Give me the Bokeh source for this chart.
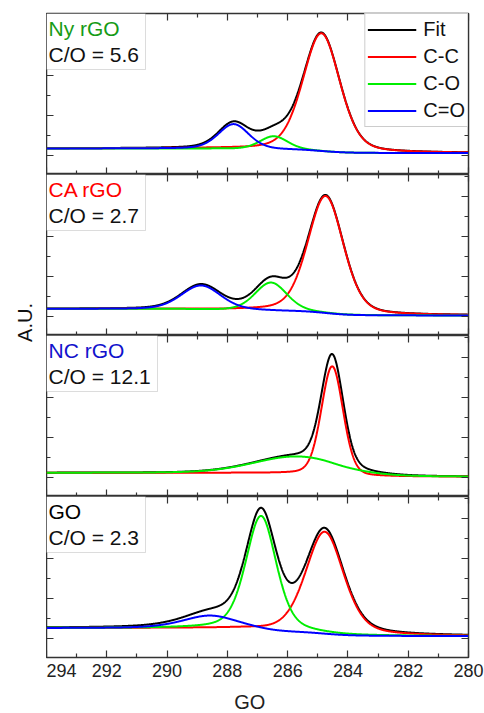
import numpy as np
from bokeh.plotting import figure
from bokeh.models import (Range1d, LinearAxis, FixedTicker, Label, BoxAnnotation,
                          Legend, LegendItem)
from bokeh.layouts import row, column
from bokeh.embed import file_html
from bokeh.resources import INLINE

# ---------------- data ----------------
x_ticks = [294, 292, 290, 288, 286, 284, 282, 280]
x_minor_ticks = [293, 291, 289, 287, 285, 283, 281]
y_ticks = [0, 1, 2, 3]
y_minor_ticks = [0.5, 1.5, 2.5, 3.5]
x_title = "GO"
y_title = "A.U."
series_names = ["Fit", "C-C", "C-O", "C=O"]

sample_names = ["Ny rGO", "CA rGO", "NC rGO", "GO"]
co_ratios = ["C/O = 5.6", "C/O = 2.7", "C/O = 12.1", "C/O = 2.3"]

# fitted peak parameters, order C-C, C-O, C=O (None = component absent)
ny_centre = [284.88, 286.46, 287.79]
ny_height = [2.95, 0.33, 0.62]
ny_fwhm = [1.45, 1.10, 1.20]
ny_lorentz = [0.3, 0.3, 0.3]
ny_background = [0.06, 0.175]      # low-BE end, high-BE end

ca_centre = [284.74, 286.55, 288.87]
ca_height = [2.93, 0.70, 0.60]
ca_fwhm = [1.40, 1.25, 1.55]
ca_lorentz = [0.3, 0.25, 0.25]
ca_background = [0.025, 0.19]

nc_centre = [284.52, 285.68, None]
nc_height = [2.72, 0.43, None]
nc_fwhm = [0.85, 3.40, None]
nc_lorentz = [0.2, 0.2, None]
nc_background = [0.02, 0.117]

go_centre = [284.77, 286.88, 288.56]
go_height = [2.56, 2.87, 0.33]
go_fwhm = [1.50, 1.20, 2.20]
go_lorentz = [0.4, 0.4, 0.5]
go_background = [0.058, 0.258]

panels_data = [
    (ny_centre, ny_height, ny_fwhm, ny_lorentz, ny_background),
    (ca_centre, ca_height, ca_fwhm, ca_lorentz, ca_background),
    (nc_centre, nc_height, nc_fwhm, nc_lorentz, nc_background),
    (go_centre, go_height, go_fwhm, go_lorentz, go_background),
]

# ---------------- styles / layout ----------------
FONT = "Liberation Sans"
line_colors = ["#000000", "#ff0000", "#00ee00", "#0000ff"]
name_colors = ["#169b16", "#ff0000", "#1111cc", "#000000"]
box_width_px = [99, 99, 111, 99]
FRAME_W = 422
FRAME_H = 161
PX_PER_Y = 40.0
X_LO, X_HI = 280, 294
Y_LO, Y_HI = -0.475, 3.55
TOTAL_H = 713
TOP_PAD = 13
TICKLABEL_PAD = 30
STRIP_H = TOTAL_H - TOP_PAD - 4 * FRAME_H - TICKLABEL_PAD


def pseudo_voigt(x, c, h, w, eta):
    t = (x - c) / w
    return h * ((1 - eta) * np.exp(-4 * np.log(2) * t * t) + eta / (1 + 4 * t * t))


def build_curves(centre, height, fwhm, lorentz, background):
    x = np.linspace(X_LO, X_HI, 1401)
    peaks = []
    for c, h, w, e in zip(centre, height, fwhm, lorentz):
        peaks.append(None if c is None else pseudo_voigt(x, c, h, w, e))
    total = sum(p for p in peaks if p is not None)
    cum = np.cumsum(total)
    frac = cum / cum[-1]
    bg = background[0] + (background[1] - background[0]) * frac   # Shirley-type step
    curves = [bg + total] + [None if p is None else bg + p for p in peaks]
    return x, curves


def style_axis(ax, labels=False):
    ax.axis_line_color = None
    ax.major_tick_in = 7
    ax.major_tick_out = 0
    ax.minor_tick_in = 4
    ax.minor_tick_out = 0
    ax.major_tick_line_color = "#333333"
    ax.minor_tick_line_color = "#333333"
    ax.major_tick_line_width = 1.2
    ax.minor_tick_line_width = 1.2
    if labels:
        ax.major_label_text_font = FONT
        ax.major_label_text_font_size = "18px"
        ax.major_label_text_color = "#222222"
        ax.major_label_standoff = 6
    else:
        ax.major_label_text_font_size = "0px"
        ax.major_label_text_color = None
        ax.major_label_text_alpha = 0
        ax.major_label_standoff = 0


x_range = Range1d(X_HI, X_LO)
panels = []
for i, pdata in enumerate(panels_data):
    top = TOP_PAD if i == 0 else 0
    bottom = TICKLABEL_PAD if i == 3 else 0
    p = figure(width=FRAME_W + 16, height=FRAME_H + top + bottom,
               x_range=x_range, y_range=Range1d(Y_LO, Y_HI),
               output_backend="svg", toolbar_location=None,
               x_axis_location=None, y_axis_location=None,
               min_border_left=0, min_border_right=16,
               min_border_top=top, min_border_bottom=bottom)
    p.outline_line_color = "#333333"
    p.outline_line_width = 1.5
    p.grid.visible = False

    for loc in ["above", "below"]:
        ax = LinearAxis(ticker=FixedTicker(ticks=x_ticks, minor_ticks=x_minor_ticks))
        show = (i == 3 and loc == "below")
        style_axis(ax, labels=show)
        p.add_layout(ax, loc)
    for loc in ["left", "right"]:
        ax = LinearAxis(ticker=FixedTicker(ticks=y_ticks, minor_ticks=y_minor_ticks))
        style_axis(ax)
        p.add_layout(ax, loc)

    x, curves = build_curves(*pdata)
    renderers = []
    for k, yv in enumerate(curves):
        if yv is None:
            renderers.append(None)
            continue
        r = p.line(x, yv, line_color=line_colors[k], line_width=2)
        renderers.append(r)

    # sample label box
    bw = box_width_px[i] * (X_HI - X_LO) / FRAME_W
    box = BoxAnnotation(left=X_HI, right=X_HI - bw, top=Y_HI, bottom=Y_HI - 56 / PX_PER_Y,
                        fill_color="white", fill_alpha=1.0,
                        line_color="#8c8c8c", line_width=1)
    p.add_layout(box)
    tx = X_HI - 2 * (X_HI - X_LO) / FRAME_W
    p.add_layout(Label(x=tx, y=Y_HI - 15 / PX_PER_Y, text=sample_names[i],
                       text_color=name_colors[i], text_font=FONT,
                       text_font_size="21px", text_align="left",
                       text_baseline="middle"))
    p.add_layout(Label(x=tx, y=Y_HI - 41 / PX_PER_Y, text=co_ratios[i],
                       text_color="#111111", text_font=FONT,
                       text_font_size="21px", text_align="left",
                       text_baseline="middle"))

    if i == 0:
        items = [LegendItem(label=series_names[k], renderers=[renderers[k]])
                 for k in range(4)]
        legend = Legend(items=items, location="top_right",
                        label_text_font=FONT, label_text_font_size="20px",
                        label_text_color="#111111",
                        glyph_width=49, glyph_height=27, label_height=27,
                        label_standoff=7, spacing=0, padding=2, margin=0,
                        border_line_color="#999999", border_line_width=1,
                        background_fill_color="white", background_fill_alpha=1.0)
        p.add_layout(legend)
    panels.append(p)

# bottom strip carrying the x title
bs = figure(width=FRAME_W + 16, height=STRIP_H, x_range=Range1d(0, FRAME_W + 16),
            y_range=Range1d(0, STRIP_H), output_backend="svg", toolbar_location=None,
            x_axis_location=None, y_axis_location=None, min_border=0)
bs.outline_line_color = None
bs.grid.visible = False
bs.add_layout(Label(x=FRAME_W / 2, y=1, text=x_title, text_align="center",
                    text_baseline="bottom", text_font=FONT,
                    text_font_size="20px", text_color="#222222"))

# left strip carrying the shared y title
lf = figure(width=46, height=TOTAL_H, x_range=Range1d(0, 46), y_range=Range1d(0, TOTAL_H),
            output_backend="svg", toolbar_location=None,
            x_axis_location=None, y_axis_location=None, min_border=0)
lf.outline_line_color = None
lf.grid.visible = False
lf.add_layout(Label(x=24.5, y=TOTAL_H - 322, text=y_title, angle=90, angle_units="deg",
                    text_align="center", text_baseline="middle",
                    text_font=FONT, text_font_size="20px", text_color="#111111"))

layout = row(lf, column(*panels, bs, spacing=0), spacing=0)
open("out.html", "w").write(file_html(layout, INLINE))
